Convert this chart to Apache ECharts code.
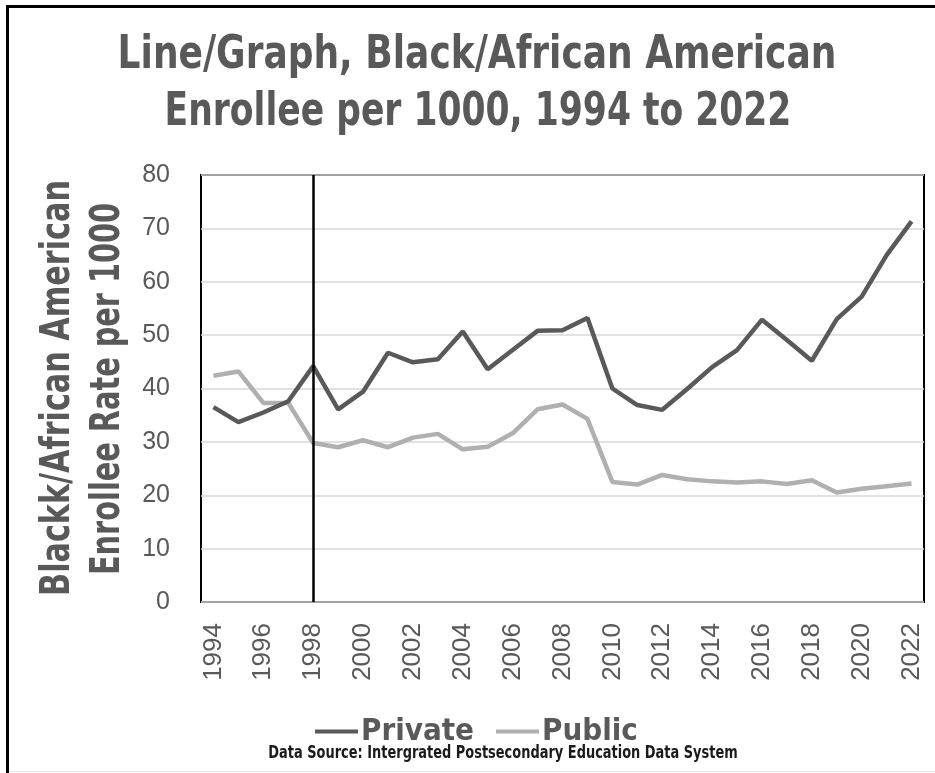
<!DOCTYPE html>
<html>
<head>
<meta charset="utf-8">
<script src="https://cdn.jsdelivr.net/npm/echarts@6/dist/echarts.min.js"></script>
<style>
  html, body { margin: 0; padding: 0; background: #fff; }
  #main { width: 935px; height: 773px; }
</style>
</head>
<body>
<div id="main"></div>
<script>
var chartDom = document.getElementById('main');
var myChart = echarts.init(chartDom);

const years = [];
for (let y = 1994; y <= 2022; y++) years.push(String(y));

// enrollee rate per 1000
const privateRate = [36.5, 33.7, 35.5, 37.6, 44.2, 36.1, 39.4, 46.7, 44.9, 45.5,
  50.7, 43.6, 47.2, 50.8, 50.9, 53.2, 40.0, 36.9, 36.0, 39.9,
  44.0, 47.2, 52.9, 49.1, 45.2, 53.0, 57.2, 65.0, 71.3];
const publicRate = [42.4, 43.2, 37.3, 37.3, 29.8, 29.0, 30.3, 29.0, 30.8, 31.5,
  28.6, 29.1, 31.6, 36.1, 37.0, 34.3, 22.5, 22.0, 23.8, 23.0,
  22.6, 22.4, 22.6, 22.1, 22.8, 20.5, 21.2, 21.7, 22.2];
const markYear = '1998';

const narrow = '"Liberation Sans Narrow", "DejaVu Sans Condensed", "Liberation Sans", sans-serif';
const grey = '#595959';

// bold condensed text, squeezed a bit more to look like a narrow face
function narrowText(text, x, y, size, sx, extra) {
  return Object.assign({
    type: 'text',
    x: x, y: y,
    scaleX: sx,
    style: {
      text: text,
      fontFamily: narrow, fontWeight: 'bold', fontSize: size,
      fill: grey, align: 'center', verticalAlign: 'middle'
    }
  }, extra || {});
}

var option = {
  animation: false,
  legend: {
    left: 310,
    top: 711,
    icon: 'rect',
    itemWidth: 43,
    itemHeight: 4,
    itemGap: 22,
    textStyle: { fontFamily: narrow, fontWeight: 'bold', fontSize: 31, color: grey, padding: [0, 0, 0, -2] },
    data: ['Private', 'Public']
  },
  grid: {
    left: 201, right: 11, top: 175, bottom: 171,
    show: true, borderColor: '#000', borderWidth: 2
  },
  xAxis: {
    type: 'category',
    data: years,
    boundaryGap: true,
    axisLine: { show: false },
    axisTick: { show: false },
    axisLabel: {
      rotate: 90, interval: 1, margin: 21,
      fontFamily: 'Liberation Sans', fontSize: 26, color: grey
    }
  },
  yAxis: {
    type: 'value',
    min: 0, max: 80, interval: 10,
    axisLine: { show: false },
    axisTick: { show: false },
    axisLabel: { margin: 31, fontFamily: 'Liberation Sans', fontSize: 25, color: grey },
    splitLine: { lineStyle: { color: '#d9d9d9', width: 1.5 } }
  },
  graphic: [
    narrowText('Line/Graph, Black/African American', 477, 56, 46, 0.87),
    narrowText('Enrollee per 1000, 1994 to 2022', 478, 113, 46, 0.835),
    narrowText('Blackk/African American', 58, 388, 41, 0.82, { rotation: Math.PI / 2 }),
    narrowText('Enrollee Rate per 1000', 108, 389, 41, 0.78, { rotation: Math.PI / 2 }),
    {
      type: 'text',
      x: 503, y: 753,
      scaleX: 0.8,
      style: {
        text: 'Data Source: Intergrated Postsecondary Education Data System',
        fontFamily: narrow, fontWeight: 'bold', fontSize: 18,
        fill: '#1a1a1a', align: 'center', verticalAlign: 'middle'
      }
    },
    { type: 'line', shape: { x1: 6, y1: 6.5, x2: 935, y2: 6.5 }, style: { stroke: '#000', lineWidth: 3 } },
    { type: 'line', shape: { x1: 7.5, y1: 5, x2: 7.5, y2: 773 }, style: { stroke: '#000', lineWidth: 3 } },
    { type: 'line', shape: { x1: 9, y1: 771.5, x2: 935, y2: 771.5 }, style: { stroke: '#e6e6e6', lineWidth: 1 } }
  ],
  series: [
    {
      name: 'Public',
      type: 'line',
      data: publicRate,
      symbol: 'none',
      itemStyle: { color: '#b0b0b0' },
      lineStyle: { color: '#b0b0b0', width: 4.5 }
    },
    {
      name: 'Private',
      type: 'line',
      data: privateRate,
      symbol: 'none',
      itemStyle: { color: grey },
      lineStyle: { color: grey, width: 4.5 },
      markLine: {
        silent: true,
        symbol: 'none',
        label: { show: false },
        lineStyle: { color: '#000', width: 2.5, type: 'solid' },
        data: [{ xAxis: markYear }]
      }
    }
  ]
};

option && myChart.setOption(option);
</script>
</body>
</html>
